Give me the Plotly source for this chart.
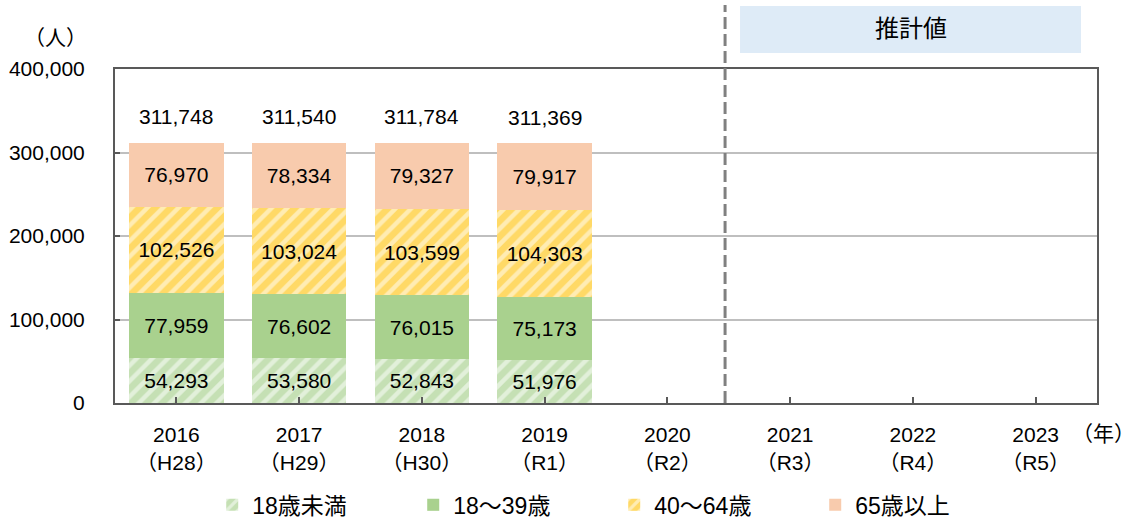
import plotly.graph_objects as go

years = ["2016", "2017", "2018", "2019", "2020", "2021", "2022", "2023"]
eras = ["H28", "H29", "H30", "R1", "R2", "R3", "R4", "R5"]
under18 = [54293, 53580, 52843, 51976, None, None, None, None]
age18_39 = [77959, 76602, 76015, 75173, None, None, None, None]
age40_64 = [102526, 103024, 103599, 104303, None, None, None, None]
age65 = [76970, 78334, 79327, 79917, None, None, None, None]
totals = [311748, 311540, 311784, 311369, None, None, None, None]
series_names = ["18歳未満", "18～39歳", "40～64歳", "65歳以上"]
y_ticks = [0, 100000, 200000, 300000, 400000]

FONT = "Liberation Sans, Arial, Noto Sans CJK JP"
labels = [f"{y}<br>（{e}）" for y, e in zip(years, eras)]
x = list(range(len(years)))

fig = go.Figure()

styles = [
    dict(color="#C5E0B4", pattern=dict(shape="/", fgcolor="white", size=11, solidity=0.4)),
    dict(color="#A9D18E"),
    dict(color="#FFD966", pattern=dict(shape="/", fgcolor="white", size=11, solidity=0.4)),
    dict(color="#F8CBAD"),
]
for name, vals, st in zip(series_names, [under18, age18_39, age40_64, age65], styles):
    fig.add_trace(go.Bar(
        x=x, y=vals, name=name, width=0.77,
        marker=dict(line=dict(width=0), **st),
        text=[f"{v:,}" if v is not None else "" for v in vals],
        textposition="inside", insidetextanchor="middle", textangle=0,
        textfont=dict(size=21, color="black", family=FONT),
        hoverinfo="skip",
    ))

for i, t in enumerate(totals):
    if t is not None:
        fig.add_annotation(x=i, y=t, text=f"{t:,}", showarrow=False,
                           yanchor="middle", yshift=26,
                           font=dict(size=21, color="black", family=FONT))

# unit labels
fig.add_annotation(xref="paper", yref="paper", x=-0.061, y=1.093, text="（人）",
                   showarrow=False, font=dict(size=21, color="black", family=FONT),
                   xanchor="center", yanchor="middle")
fig.add_annotation(xref="paper", yref="paper", x=0.9735, y=-0.09, text="（年）",
                   showarrow=False, borderpad=0,
                   font=dict(size=21, color="black", family=FONT),
                   xanchor="left", yanchor="middle")

# estimate box
fig.add_shape(type="rect", xref="paper", yref="paper",
              x0=0.6365, x1=0.9837, y0=1.0479, y1=1.1886,
              fillcolor="#DEEBF7", line=dict(width=0), layer="below")
fig.add_annotation(xref="paper", yref="paper", x=(0.6365 + 0.9837) / 2, y=1.122,
                   text="推計値", showarrow=False,
                   font=dict(size=24, color="black", family=FONT),
                   xanchor="center", yanchor="middle")

# dashed separator
fig.add_shape(type="line", xref="x", yref="paper", x0=4.47, x1=4.47, y0=0, y1=1.1916,
              line=dict(color="#808080", width=3, dash="12px,5px"))

fig.update_layout(
    width=1137, height=520,
    margin=dict(l=115, r=40, t=69, b=117, autoexpand=False),
    paper_bgcolor="white", plot_bgcolor="white",
    barmode="stack", bargap=0.23,
    font=dict(family=FONT, size=20, color="black"),
    showlegend=True,
    legend=dict(orientation="h", x=0.099, y=-0.305, xanchor="left", yanchor="middle",
                font=dict(size=23, family=FONT, color="black"),
                entrywidth=156, entrywidthmode="pixels", itemwidth=30,
                traceorder="normal"),
)
fig.update_xaxes(
    tickmode="array", tickvals=x, ticktext=labels, range=[-0.5, 7.5],
    showline=True, linecolor="#595959", linewidth=2, mirror=True,
    ticks="inside", tickson="boundaries", ticklen=6, tickcolor="#595959", tickwidth=2,
    showgrid=False, tickfont=dict(size=21, color="black", family=FONT),
    ticklabelstandoff=12, automargin=False,
)
fig.update_yaxes(
    range=[0, 400000], tickmode="array", tickvals=y_ticks,
    ticktext=[f"{v:,}" for v in y_ticks],
    showline=True, linecolor="#595959", linewidth=2, mirror=True,
    ticks="inside", ticklen=5, tickcolor="#595959", tickwidth=2,
    showgrid=True, gridcolor="#BFBFBF", gridwidth=2,
    ticklabelstandoff=24, automargin=False,
    tickfont=dict(size=21, color="black", family=FONT),
)

fig.write_html("out.html", config={"displayModeBar": False},
               post_script="document.body.style.margin='0';")
